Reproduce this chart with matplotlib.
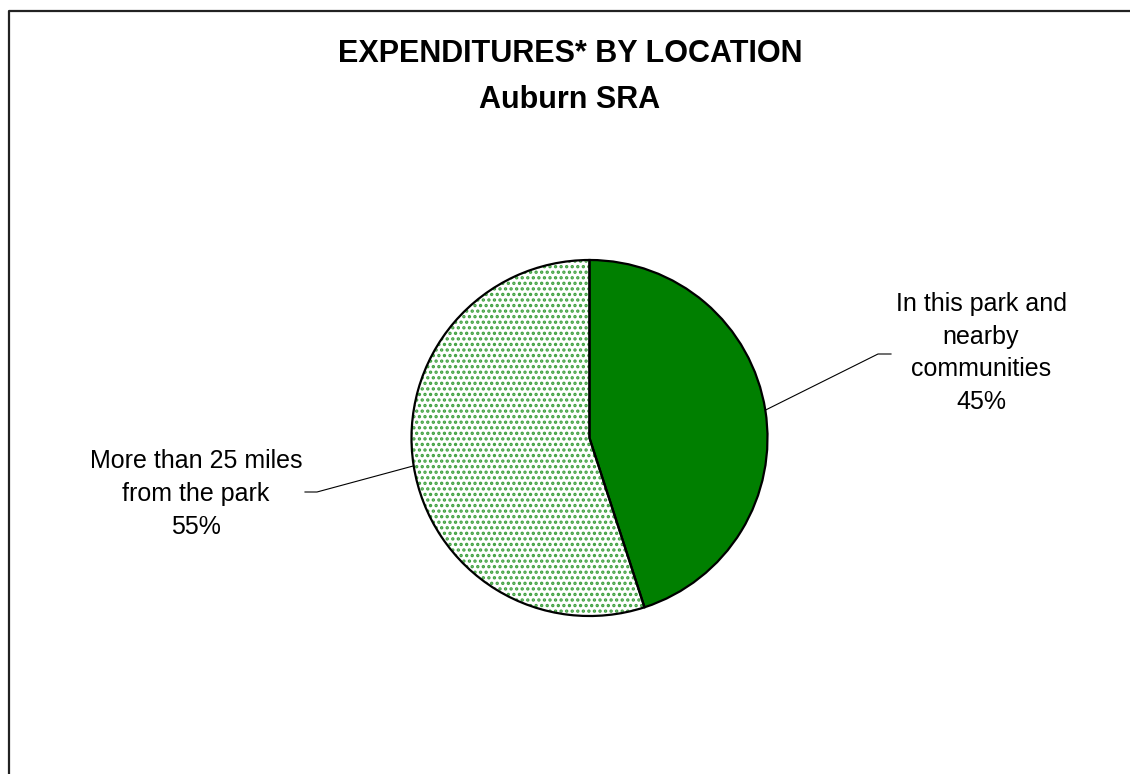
import matplotlib.pyplot as plt
from matplotlib.lines import Line2D
import numpy as np

plt.rcParams['font.family'] = ['Liberation Sans', 'DejaVu Sans']
plt.rcParams['hatch.linewidth'] = 1.6

# data
labels = ['In this park and\nnearby\ncommunities', 'More than 25 miles\nfrom the park']
shares = [45, 55]
title = 'EXPENDITURES* BY LOCATION\nAuburn SRA'

W, H = 1130, 774
fig = plt.figure(figsize=(W / 100, H / 100), dpi=100)

# pie centre and radius in pixels
cx, cy, r = 589.5, 438, 178
ax = fig.add_axes([(cx - r) / W, (H - cy - r) / H, 2 * r / W, 2 * r / H])
ax.set_xlim(-1, 1)
ax.set_ylim(-1, 1)
ax.axis('off')

# fill layer (hatch uses edge colour, so outline drawn separately)
wedges, _ = ax.pie(shares, startangle=90, counterclock=False, radius=1,
                   colors=['#007f00', 'white'],
                   wedgeprops=dict(linewidth=0, edgecolor='#3fa03f'))
wedges[1].set_hatch('...')
ax.pie(shares, startangle=90, counterclock=False, radius=1,
       wedgeprops=dict(fill=False, linewidth=1.6, edgecolor='black'))
ax.set_xlim(-1, 1)
ax.set_ylim(-1, 1)

# labels with leader lines
text_pos = [(981, 353), (196, 494)]
elbow = [(878, 354), (317, 492)]
ends = [(891, 354), (305, 492)]
start = 90
for i, w in enumerate(wedges):
    ang = np.deg2rad(start - 360 * (sum(shares[:i]) + shares[i] / 2) / sum(shares))
    px = cx + r * np.cos(ang)
    py = cy - r * np.sin(ang)
    xs = [px, elbow[i][0], ends[i][0]]
    ys = [py, elbow[i][1], ends[i][1]]
    fig.add_artist(Line2D([x / W for x in xs], [1 - y / H for y in ys],
                          color='black', linewidth=0.8))
    fig.text(text_pos[i][0] / W, 1 - text_pos[i][1] / H,
             labels[i] + '\n%d%%' % shares[i], ha='center', va='center',
             fontsize=18, linespacing=1.47, multialignment='center')

fig.text(570 / W, 1 - 77 / H, title, ha='center', va='center',
         fontsize=22, fontweight='bold', linespacing=1.67)

# chart area frame (left and top edges only visible)
fig.add_artist(Line2D([8.5 / W, 8.5 / W, 1], [0, 1 - 10.5 / H, 1 - 10.5 / H],
                      color='#222222', linewidth=1.6))

plt.savefig('out.png', dpi=100)
